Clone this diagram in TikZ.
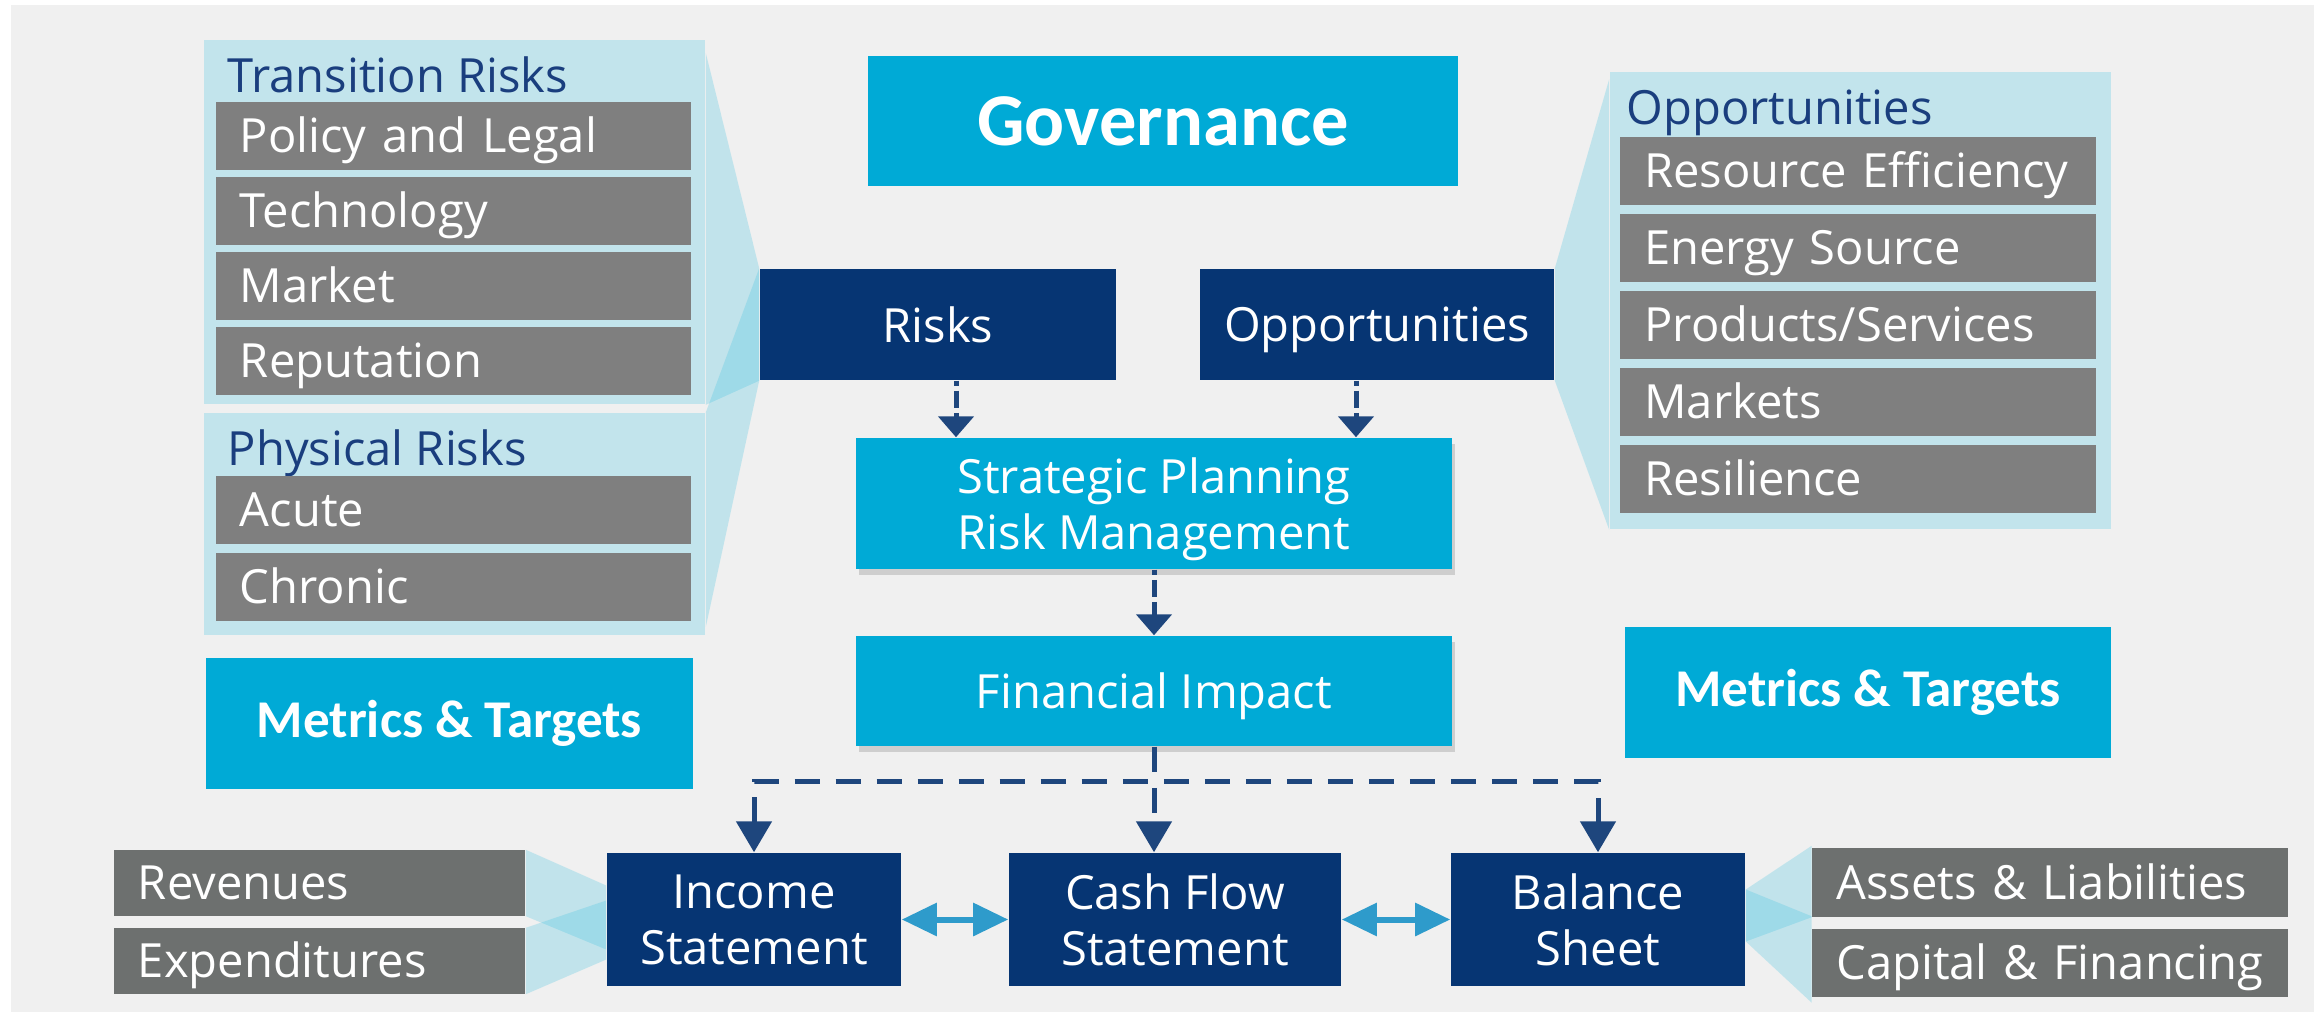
\documentclass[tikz,border=0pt]{standalone}
\usepackage{fontspec}
\setmainfont{Open Sans}
\newfontfamily\calfont{Carlito}
\usetikzlibrary{arrows.meta,shadows,backgrounds}

\definecolor{bgray}{RGB}{240,240,240}
\definecolor{tcfd}{RGB}{0,170,214}
\definecolor{navy}{RGB}{6,53,115}
\definecolor{itemgray}{RGB}{127,127,127}
\definecolor{fingray}{RGB}{109,112,111}
\definecolor{panel}{RGB}{194,228,236}
\definecolor{funnel}{RGB}{56,192,224}
\definecolor{flow}{RGB}{30,70,125}
\definecolor{link}{RGB}{46,155,203}
\definecolor{headblue}{RGB}{26,62,126}

\tikzstyle{pillar}=[rectangle, fill=tcfd, text=white, font=\calfont\bfseries\fontsize{21.2}{25}\selectfont]
\tikzstyle{metric}=[rectangle, fill=tcfd, text=white, minimum width=4.86cm, minimum height=1.30cm, font=\calfont\bfseries\fontsize{15.1}{18}\selectfont]
\tikzstyle{dark}=[rectangle, fill=navy, text=white, align=center, text depth=0pt, font=\fontsize{13.4}{16}\selectfont]
\tikzstyle{process}=[rectangle, fill=tcfd, text=white, align=center, text depth=0pt, minimum width=5.96cm, font=\fontsize{13.4}{16}\selectfont, drop shadow={shadow xshift=0.03cm, shadow yshift=-0.06cm, opacity=0.3}]
\tikzstyle{item}=[rectangle, fill=itemgray, text=white, minimum height=0.68cm, inner xsep=0.24cm, inner ysep=0pt, text width=4.27cm, text height=0.33cm, text depth=0cm, align=left, font=\fontsize{13.4}{16}\selectfont]
\tikzstyle{panelbox}=[rectangle, fill=panel, inner sep=0pt]
\tikzstyle{heading}=[anchor=base west, inner sep=0pt, text=headblue, font=\fontsize{13.4}{16}\selectfont]
\tikzstyle{flowarrow}=[draw=flow, line width=0.05cm, dash pattern=on 0.25cm off 0.16cm, -{Triangle[width=0.35cm,length=0.31cm]}]
\tikzstyle{shortflow}=[draw=flow, line width=0.05cm, dash pattern=on 0.17cm off 0.05cm, dash phase=0.12cm, -{Triangle[width=0.35cm,length=0.21cm]}]
\tikzstyle{linkarrow}=[draw=link, line width=0.06cm, {Triangle[width=0.32cm,length=0.35cm]}-{Triangle[width=0.32cm,length=0.35cm]}]
\tikzstyle{funnelfill}=[fill=funnel, fill opacity=0.25]

\begin{document}
\begin{tikzpicture}[x=0.01cm, y=-0.01cm]
                \useasboundingbox (0,0) rectangle (2324,1012);
                % panels behind the lists
                \node[panelbox, minimum width=5.01cm, minimum height=3.64cm] (trans) at (454.5,222) {};
                \node[panelbox, minimum width=5.01cm, minimum height=2.22cm] (phys) at (454.5,524) {};
                \node[panelbox, minimum width=5.01cm, minimum height=4.57cm] (opanel) at (1860.5,300.5) {};
                \node[heading] (th) at (227,92) {Transition Risks};
                \node[heading] (ph) at (227,465) {Physical Risks};
                \node[heading] (oh) at (1626,124) {Opportunities};
                % transition and physical risks
                \node[item] (pl) at (453.5,136) {Policy and Legal};
                \node[item] (tech) at (453.5,211) {Technology};
                \node[item] (mkt) at (453.5,286) {Market};
                \node[item] (rep) at (453.5,361) {Reputation};
                \node[item] (acute) at (453.5,510) {Acute};
                \node[item] (chron) at (453.5,587) {Chronic};
                % opportunities
                \node[item] (re) at (1858,171) {Resource Efficiency};
                \node[item] (es) at (1858,248) {Energy Source};
                \node[item] (ps) at (1858,325) {Products/Services};
                \node[item] (mkts) at (1858,402) {Markets};
                \node[item] (res) at (1858,479) {Resilience};
                % centre column
                \node[pillar, minimum width=5.90cm, minimum height=1.30cm] (gov) at (1163,121) {Governance};
                \node[dark, minimum width=3.56cm, minimum height=1.11cm] (risks) at (938,324.5) {Risks};
                \node[dark, minimum width=3.54cm, minimum height=1.11cm] (opp) at (1377,324.5) {Opportunities};
                \node[process, minimum height=1.31cm] (sprm) at (1154,503.5) {Strategic Planning\\Risk Management};
                \node[process, minimum height=1.10cm] (fi) at (1154,691) {Financial Impact};
                \node[metric] (metl) at (449.5,723.5) {Metrics \& Targets};
                \node[metric] (metr) at (1868,692.5) {Metrics \& Targets};
                % statements
                \node[dark, minimum width=2.94cm, minimum height=1.33cm] (income) at (754,919.5) {Income\\Statement};
                \node[dark, minimum width=3.32cm, minimum height=1.33cm] (cash) at (1175,919.5) {Cash Flow\\Statement};
                \node[dark, minimum width=2.94cm, minimum height=1.33cm] (balance) at (1598,919.5) {Balance\\Sheet};
                \node[item, fill=fingray, text width=3.63cm, minimum height=0.65cm] (rev) at (319.5,883) {Revenues};
                \node[item, fill=fingray, text width=3.63cm, minimum height=0.65cm] (exp) at (319.5,961) {Expenditures};
                \node[item, fill=fingray] (assets) at (2050,882.5) {Assets \& Liabilities};
                \node[item, fill=fingray] (capital) at (2050,963) {Capital \& Financing};
                \coordinate (split) at (1154,781);

                \begin{scope}[on background layer]
                    \fill[white] (0,0) rectangle (2324,1012);
                    \fill[bgray] (11,5) rectangle (2314,1012);
                    \fill[funnelfill] ([yshift=-0.14cm]trans.north east) -- (risks.north west) -- (risks.south west) -- (trans.south east) -- cycle;
                    \fill[funnelfill] (phys.north east) -- (risks.north west) -- (risks.south west) -- ([yshift=0.09cm]phys.south east) -- cycle;
                    \fill[funnelfill] (opp.north east) -- ([yshift=-0.08cm]opanel.north west) -- (opanel.south west) -- (opp.south east) -- cycle;
                    \fill[funnelfill] (rev.north east) -- ([yshift=0.34cm]income.west) -- ([yshift=-0.30cm]income.west) -- (rev.south east) -- cycle;
                    \fill[funnelfill] (exp.north east) -- ([yshift=0.19cm]income.west) -- ([yshift=-0.40cm]income.west) -- (exp.south east) -- cycle;
                    \fill[funnelfill] ([yshift=0.30cm]balance.east) -- ([yshift=0.02cm]assets.north west) -- (assets.south west) -- ([yshift=-0.22cm]balance.east) -- cycle;
                    \fill[funnelfill] ([yshift=0.30cm]balance.east) -- ([yshift=0.12cm]capital.north west) -- ([yshift=-0.05cm]capital.south west) -- ([yshift=-0.22cm]balance.east) -- cycle;
                \end{scope}

                \draw[shortflow] ([xshift=0.18cm]risks.south) -- ([xshift=0.18cm]risks.south |- sprm.north);
                \draw[shortflow] ([xshift=-0.21cm]opp.south) -- ([xshift=-0.21cm]opp.south |- sprm.north);
                \draw[shortflow] (sprm.south) -- (fi.north);
                \draw[flowarrow] (fi.south) -- (fi.south |- cash.north);
                \draw[flowarrow, {Triangle[width=0.35cm,length=0.31cm]}-{Triangle[width=0.35cm,length=0.31cm]}] (income.north) |- (split) -| (balance.north);
                \draw[linkarrow] (income.east) -- (cash.west);
                \draw[linkarrow] (cash.east) -- (balance.west);
            \end{tikzpicture}
\end{document}
